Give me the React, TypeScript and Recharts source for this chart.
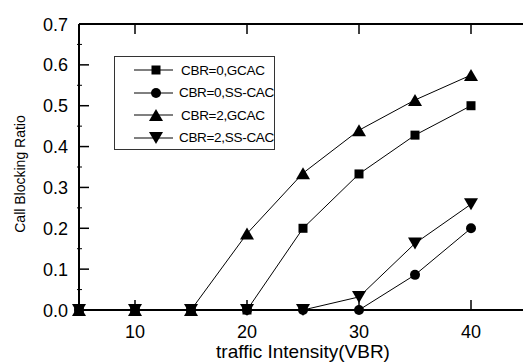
import { LineChart, Line, XAxis, YAxis, Legend } from 'recharts';

const INTENSITY = [5, 10, 15, 20, 25, 30, 35, 40];
const CBR0_GCAC = [0, 0, 0, 0, 0.2, 0.333, 0.428, 0.5];
const CBR0_SSCAC = [0, 0, 0, 0, 0, 0, 0.086, 0.2];
const CBR2_GCAC = [0, 0, 0, 0.187, 0.335, 0.44, 0.514, 0.575];
const CBR2_SSCAC = [0, 0, 0, 0, 0, 0.032, 0.163, 0.259];

const X_TICKS = [10, 20, 30, 40];
const Y_TICKS = [0, 0.05, 0.1, 0.15, 0.2, 0.25, 0.3, 0.35, 0.4, 0.45, 0.5, 0.55, 0.6, 0.65, 0.7];
const Y_RIGHT_TICKS = [0.1, 0.2, 0.3, 0.4, 0.5, 0.6];

const FONT = '"Liberation Sans", Arial, sans-serif';

type Shape = 'square' | 'circle' | 'up' | 'down';

const SERIES: { key: string; name: string; shape: Shape; values: number[] }[] = [
  { key: 'cbr0g', name: 'CBR=0,GCAC', shape: 'square', values: CBR0_GCAC },
  { key: 'cbr0s', name: 'CBR=0,SS-CAC', shape: 'circle', values: CBR0_SSCAC },
  { key: 'cbr2g', name: 'CBR=2,GCAC', shape: 'up', values: CBR2_GCAC },
  { key: 'cbr2s', name: 'CBR=2,SS-CAC', shape: 'down', values: CBR2_SSCAC },
];

const data = INTENSITY.map((x, i) => {
  const row: Record<string, number> = { x };
  SERIES.forEach((s) => {
    row[s.key] = s.values[i];
  });
  return row;
});

function Marker({ shape, cx, cy }: { shape: Shape; cx: number; cy: number }) {
  if (shape === 'square') return <rect x={cx - 4.5} y={cy - 4.5} width={9} height={9} fill="#000" />;
  if (shape === 'circle') return <circle cx={cx} cy={cy} r={5} fill="#000" />;
  if (shape === 'up')
    return <polygon points={`${cx},${cy - 6} ${cx - 7},${cy + 6} ${cx + 7},${cy + 6}`} fill="#000" />;
  return <polygon points={`${cx},${cy + 6} ${cx - 7},${cy - 6} ${cx + 7},${cy - 6}`} fill="#000" />;
}

const BottomTick = ({ x, y, payload }: any) => (
  <g>
    <line x1={x} y1={y} x2={x} y2={y - 10} stroke="#000" strokeWidth={1.5} />
    <text x={x} y={y + 28} textAnchor="middle" fontSize={18} fontFamily={FONT} fill="#000">
      {payload.value}
    </text>
  </g>
);

const TopTick = ({ x, y }: any) => <line x1={x} y1={y} x2={x} y2={y + 10} stroke="#000" strokeWidth={1.5} />;

const RightTick = ({ x, y }: any) => <line x1={x} y1={y} x2={x - 10} y2={y} stroke="#000" strokeWidth={1.5} />;

const LeftTick = ({ x, y, payload }: any) => {
  const v = payload.value as number;
  const major = Math.abs(v * 10 - Math.round(v * 10)) < 1e-6;
  if (!major) return <line x1={x - 2} y1={y} x2={x + 3} y2={y} stroke="#000" strokeWidth={1} />;
  return (
    <g>
      <line x1={x} y1={y} x2={x + 10} y2={y} stroke="#000" strokeWidth={1.5} />
      <text x={x - 11} y={y + 6.5} textAnchor="end" fontSize={18} fontFamily={FONT} fill="#000">
        {v.toFixed(1)}
      </text>
    </g>
  );
};

const YLabel = ({ viewBox }: any) => {
  const cx = viewBox.x + 20;
  const cy = viewBox.y + viewBox.height / 2 + 7;
  return (
    <text
      x={cx}
      y={cy}
      transform={`rotate(-90 ${cx} ${cy})`}
      textAnchor="middle"
      dominantBaseline="central"
      fontSize={14}
      fontFamily={FONT}
      fill="#000"
    >
      Call Blocking Ratio
    </text>
  );
};

const LegendBox = () => (
  <div
    style={{
      border: '1px solid #333',
      background: '#fff',
      width: 159,
      height: 90,
      paddingTop: 2,
      boxSizing: 'content-box',
      fontFamily: FONT,
      fontSize: 13.5,
      color: '#000',
    }}
  >
    {SERIES.map((s) => (
      <div key={s.key} style={{ height: 22.5, display: 'flex', alignItems: 'center' }}>
        <svg width={66} height={22} style={{ display: 'block' }}>
          <line x1={19} y1={11} x2={58} y2={11} stroke="#000" strokeWidth={1} />
          <Marker shape={s.shape} cx={41} cy={11} />
        </svg>
        <span style={{ whiteSpace: 'nowrap', letterSpacing: -0.3 }}>{s.name}</span>
      </div>
    ))}
  </div>
);

export default function App() {
  return (
    <div style={{ position: 'fixed', left: 0, top: 0, width: 523, height: 363, overflow: 'hidden', background: '#fff' }}>
      <LineChart width={540} height={363} data={data} margin={{ top: 23, right: 12, left: 0, bottom: 0 }}>
        <XAxis
          dataKey="x"
          type="number"
          domain={[5, 45]}
          ticks={X_TICKS}
          interval={0}
          height={53}
          tickSize={0}
          tickMargin={0}
          tickLine={false}
          tick={<BottomTick />}
          axisLine={{ stroke: '#000', strokeWidth: 2 }}
          label={{ value: 'traffic Intensity(VBR)', position: 'insideBottom', offset: 5, fontSize: 19, fontFamily: FONT, fill: '#000' }}
        />
        <XAxis
          xAxisId="top"
          orientation="top"
          dataKey="x"
          type="number"
          domain={[5, 45]}
          ticks={X_TICKS}
          interval={0}
          height={1}
          tickSize={0}
          tickMargin={0}
          tickLine={false}
          tick={<TopTick />}
          axisLine={{ stroke: '#000', strokeWidth: 2 }}
        />
        <YAxis
          type="number"
          domain={[0, 0.7]}
          ticks={Y_TICKS}
          interval={0}
          width={79}
          tickSize={0}
          tickMargin={0}
          tickLine={false}
          tick={<LeftTick />}
          axisLine={{ stroke: '#000', strokeWidth: 2 }}
          label={<YLabel />}
        />
        <YAxis
          yAxisId="right"
          orientation="right"
          type="number"
          domain={[0, 0.7]}
          ticks={Y_RIGHT_TICKS}
          interval={0}
          width={1}
          tickSize={0}
          tickMargin={0}
          tickLine={false}
          tick={<RightTick />}
          axisLine={{ stroke: '#000', strokeWidth: 2 }}
        />
        <Legend
          layout="vertical"
          align="center"
          verticalAlign="middle"
          content={<LegendBox />}
          wrapperStyle={{ left: 114, top: 56, width: 'auto' }}
        />
        {SERIES.map((s) => (
          <Line
            key={s.key}
            type="linear"
            dataKey={s.key}
            name={s.name}
            stroke="#000"
            strokeWidth={1}
            isAnimationActive={false}
            dot={(p: any) => <Marker key={`${s.key}-${p.index}`} shape={s.shape} cx={p.cx} cy={p.cy} />}
            activeDot={false}
          />
        ))}
      </LineChart>
    </div>
  );
}
